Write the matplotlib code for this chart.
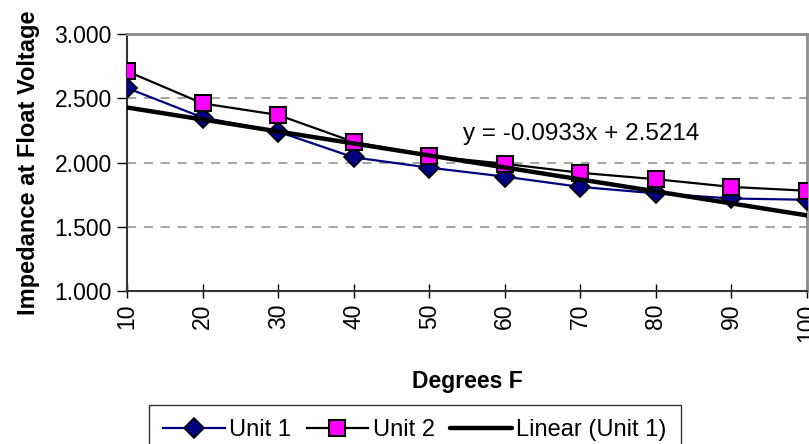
import numpy as np
import matplotlib.pyplot as plt
from matplotlib.ticker import FormatStrFormatter

plt.rcParams['font.family'] = ['Liberation Sans', 'DejaVu Sans']

# ---------------------------------------------------------------------
# Data
# ---------------------------------------------------------------------
degrees = [10, 20, 30, 40, 50, 60, 70, 80, 90, 100]
unit1 = [2.58, 2.35, 2.24, 2.04, 1.96, 1.89, 1.81, 1.76, 1.72, 1.71]
unit2 = [2.71, 2.46, 2.37, 2.16, 2.05, 1.99, 1.92, 1.87, 1.81, 1.78]

# Excel linear trendline for Unit 1 (x = category index 1..n)
slope = -0.0933
intercept = 2.5214
idx = np.arange(1, len(degrees) + 1)
trend = slope * idx + intercept

# ---------------------------------------------------------------------
# Plot
# ---------------------------------------------------------------------
W, H = 809, 444
fig = plt.figure(figsize=(W / 100, H / 100), dpi=100)
ax = fig.add_axes([127 / W, (H - 291) / H, (807 - 127) / W, (291 - 34) / H])

ax.plot(degrees, unit1, color='#000080', lw=1.6, marker='D', ms=10,
        mfc='#000080', mec='black', mew=1.2, label='Unit 1', zorder=3)
ax.plot(degrees, unit2, color='black', lw=1.6, marker='s', ms=12,
        mfc='#FF00FF', mec='black', mew=1.5, label='Unit 2', zorder=4)
ax.plot(degrees, trend, color='black', lw=3.2, label='Linear (Unit 1)',
        zorder=5, solid_capstyle='round')

ax.text(54.5, 2.225, 'y = -0.0933x + 2.5214', fontsize=17.5, ha='left',
        va='center')

ax.set_xlim(10, 100)
ax.set_ylim(1.0, 3.0)
ax.set_xticks(degrees)
ax.set_xticklabels([str(d) for d in degrees], rotation=90)
ax.set_yticks([1.0, 1.5, 2.0, 2.5, 3.0])
ax.yaxis.set_major_formatter(FormatStrFormatter('%.3f'))
ax.tick_params(axis='both', labelsize=16.5, colors='black')
ax.tick_params(axis='x', direction='inout', length=10, width=1, pad=4)
ax.tick_params(axis='y', direction='out', length=7, width=1, pad=4)

for y in [1.5, 2.0, 2.5]:
    ax.axhline(y, color='#8c8c8c', lw=1.1, ls=(0, (6, 5)), zorder=1)

ax.spines['top'].set_color('#8c8c8c')
ax.spines['right'].set_color('#8c8c8c')
ax.spines['top'].set_linewidth(2)
ax.spines['right'].set_linewidth(2)
ax.spines['left'].set_color('#333333')
ax.spines['bottom'].set_color('#333333')
ax.spines['left'].set_linewidth(1.5)
ax.spines['bottom'].set_linewidth(1.5)

ax.set_xlabel('Degrees F', fontsize=16.5, fontweight='bold', labelpad=20)
ax.set_ylabel('Impedance at Float Voltage', fontsize=17,
              fontweight='bold', labelpad=10)

leg = fig.legend(loc='upper center', bbox_to_anchor=(415 / W, 1 - 405 / H),
                 ncol=3, fontsize=17, frameon=True, fancybox=False,
                 edgecolor='black', handlelength=2.6, handletextpad=0.2,
                 columnspacing=0.65, borderpad=0.6, borderaxespad=0)
leg.get_frame().set_linewidth(1.0)

fig.savefig('out.png', dpi=100)
